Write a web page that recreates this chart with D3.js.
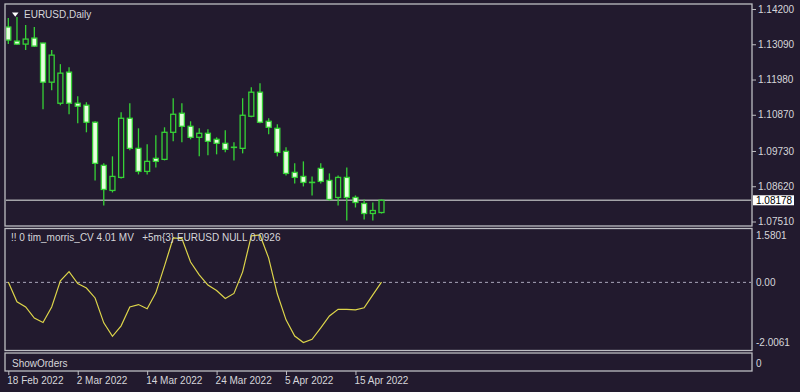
<!DOCTYPE html>
<html>
<head>
<meta charset="utf-8">
<script src="https://cdn.jsdelivr.net/npm/d3@7"></script>
<style>
    html, body { margin: 0; padding: 0; background: #221a2e; }
    svg { display: block; font-family: "Liberation Sans", Arial, sans-serif; }
</style>
</head>
<body>
<svg id="chart-container" width="800" height="392"></svg>
<script>
// EURUSD daily bars, 18 Feb 2022 .. 20 Apr 2022
var open = [1.13632, 1.13190, 1.13095, 1.13285, 1.13127, 1.11896, 1.11233, 1.12212, 1.11233, 1.11170,
    1.10634, 1.09277, 1.08488, 1.08898, 1.10760, 1.09813, 1.09087, 1.09498, 1.09466, 1.10318,
    1.10918, 1.10507, 1.10160, 1.10287, 1.10097, 1.09971, 1.09850, 1.09813, 1.10823, 1.11581,
    1.10665, 1.10444, 1.09718, 1.09056, 1.08929, 1.08745, 1.09182, 1.08803, 1.08267, 1.08898,
    1.08267, 1.08077, 1.07762, 1.07793];
var high = [1.13916, 1.13948, 1.13695, 1.13632, 1.13140, 1.12906, 1.12464, 1.12370, 1.11454, 1.11265,
    1.10665, 1.09340, 1.09561, 1.10949, 1.11233, 1.10444, 1.09939, 1.10223, 1.10476, 1.11391,
    1.11233, 1.10665, 1.10444, 1.10413, 1.10160, 1.10381, 1.10003, 1.11391, 1.11738, 1.11865,
    1.10760, 1.10571, 1.09845, 1.09340, 1.09403, 1.08929, 1.09340, 1.09024, 1.08961, 1.09213,
    1.08330, 1.08204, 1.08109, 1.08204];
var low = [1.13095, 1.13064, 1.12906, 1.13001, 1.11044, 1.11644, 1.11170, 1.10886, 1.10602, 1.10318,
    1.08803, 1.08014, 1.08425, 1.08866, 1.09750, 1.08993, 1.08993, 1.09213, 1.09434, 1.10034,
    1.10003, 1.10097, 1.09561, 1.09592, 1.09624, 1.09687, 1.09434, 1.09655, 1.10792, 1.10602,
    1.10255, 1.09561, 1.08961, 1.08709, 1.08614, 1.08330, 1.08709, 1.08172, 1.08014, 1.07541,
    1.07951, 1.07572, 1.07541, 1.07762];
var close = [1.13222, 1.13095, 1.13253, 1.13032, 1.11896, 1.12748, 1.12180, 1.11233, 1.11139, 1.10634,
    1.09340, 1.08519, 1.08929, 1.10760, 1.09813, 1.09087, 1.09403, 1.09403, 1.10318, 1.10886,
    1.10507, 1.10160, 1.10287, 1.10034, 1.09971, 1.09782, 1.09840, 1.10855, 1.11581, 1.10634,
    1.10476, 1.09687, 1.09024, 1.08898, 1.08740, 1.08735, 1.08772, 1.08204, 1.08898, 1.08267,
    1.08109, 1.07762, 1.07856, 1.08178];

// tim_morris_CV indicator, one value per bar
var cv = [0.01, -0.65, -0.82, -1.19, -1.34, -0.82, 0.05, 0.36, -0.04, -0.19,
    -0.52, -1.35, -1.80, -1.45, -0.82, -0.74, -0.88, -0.35, 0.55, 1.48,
    1.46, 0.68, 0.25, -0.09, -0.27, -0.54, -0.37, 0.35, 1.55, 1.5801,
    0.81, -0.39, -1.25, -1.79, -2.0061, -1.90, -1.52, -1.12, -0.90, -0.90,
    -0.92, -0.85, -0.42, 0.01];

var lastPrice = 1.08178;
var priceTicks = [1.14200, 1.13090, 1.11980, 1.10870, 1.09730, 1.08620, 1.07510];
var cvTicks = [1.5801, 0, -2.0061];
var cvTickLabels = ["1.5801", "0.00", "-2.0061"];
var dateTickBars = [0, 8, 16, 24, 32, 40];
var dateTickLabels = ["18 Feb 2022", "2 Mar 2022", "14 Mar 2022", "24 Mar 2022", "5 Apr 2022", "15 Apr 2022"];

var bg = "#221a2e";
var border = "#bdbdc2";
var textColor = "#d6d6da";
var green = "#36d236";

var svg = d3.select("#chart-container");

// panels
var left = 5, right = 752;
var main = { top: 4, bottom: 226 };
var ind = { top: 228.5, bottom: 350.5 };
var orders = { top: 353, bottom: 371 };

[main, ind, orders].forEach(p => {
    svg.append("rect")
        .attr("x", left)
        .attr("y", p.top)
        .attr("width", right - left)
        .attr("height", p.bottom - p.top)
        .style("fill", bg)
        .style("stroke", border)
        .style("stroke-width", 1.3);
});

// clips
var defs = svg.append("defs");
defs.append("clipPath").attr("id", "clip-main")
    .append("rect").attr("x", left + 1).attr("y", main.top + 1)
    .attr("width", right - left - 2).attr("height", main.bottom - main.top - 2);
defs.append("clipPath").attr("id", "clip-ind")
    .append("rect").attr("x", left + 1).attr("y", ind.top + 1)
    .attr("width", right - left - 2).attr("height", ind.bottom - ind.top - 2);

// scales
var x = d3.scaleLinear().domain([0, 43]).range([8.3, 381.5]);
var y = d3.scaleLinear().domain([1.0751, 1.142]).range([221.5, 9]);
var yc = d3.scaleLinear().domain([-2.0061, 1.5801]).range([342.5, 235]);

// current price line
var g = svg.append("g").attr("clip-path", "url(#clip-main)");
g.append("line")
    .attr("x1", left).attr("x2", right)
    .attr("y1", y(lastPrice)).attr("y2", y(lastPrice))
    .style("stroke", "#a4a4a8")
    .style("stroke-width", 1.4);

// candles
var bars = d3.range(open.length);
var bodyW = 5;

g.selectAll(".wick")
    .data(bars)
    .enter()
    .append("line")
    .attr("x1", i => x(i)).attr("x2", i => x(i))
    .attr("y1", i => y(high[i])).attr("y2", i => y(low[i]))
    .style("stroke", green)
    .style("stroke-width", 1.3);

g.selectAll(".body")
    .data(bars)
    .enter()
    .append("rect")
    .attr("x", i => x(i) - bodyW / 2)
    .attr("y", i => y(Math.max(open[i], close[i])))
    .attr("width", bodyW)
    .attr("height", i => Math.max(0.3, Math.abs(y(open[i]) - y(close[i]))))
    .style("fill", i => close[i] > open[i] ? bg : "#e6ffde")
    .style("stroke", green)
    .style("stroke-width", 1.3);

// price axis
var priceAxis = svg.append("g")
    .attr("transform", `translate(${right}, 0)`)
    .call(d3.axisRight(y).tickValues(priceTicks).tickFormat(d3.format(".5f")).tickSize(4).tickPadding(2));
priceAxis.select(".domain").remove();
priceAxis.selectAll("line").style("stroke", border);
priceAxis.selectAll("text")
    .style("fill", textColor)
    .style("font-size", "10px")
    .style("font-family", "Liberation Sans, Arial, sans-serif");

// last price tag
svg.append("rect")
    .attr("x", right + 1)
    .attr("y", y(lastPrice) - 5)
    .attr("width", 41)
    .attr("height", 10)
    .style("fill", "#ffffff");
svg.append("text")
    .attr("x", right + 4)
    .attr("y", y(lastPrice) + 3.6)
    .attr("font-size", 10)
    .style("fill", "#000000")
    .text(d3.format(".5f")(lastPrice));

// title
svg.append("path")
    .attr("d", "M12,12.5 L18.5,12.5 L15.25,16.8 Z")
    .style("fill", "#ffffff");
svg.append("text")
    .attr("x", 24)
    .attr("y", 18)
    .attr("font-size", 10)
    .style("fill", textColor)
    .text("EURUSD,Daily");

// indicator
var gi = svg.append("g").attr("clip-path", "url(#clip-ind)");
gi.append("line")
    .attr("x1", left).attr("x2", right)
    .attr("y1", yc(0)).attr("y2", yc(0))
    .style("stroke", "#aaa6ba")
    .style("stroke-width", 1)
    .style("stroke-dasharray", "3,3");

var cvLine = d3.line()
    .x((d, i) => x(i))
    .y(d => yc(d));
gi.append("path")
    .datum(cv)
    .attr("d", cvLine)
    .style("fill", "none")
    .style("stroke", "#dcd44a")
    .style("stroke-width", 1.2);

svg.append("text")
    .attr("x", 11)
    .attr("y", 241)
    .attr("font-size", 10)
    .style("fill", textColor)
    .style("white-space", "pre")
    .text("!! 0 tim_morris_CV 4.01 MV   +5m{3} EURUSD NULL 0.0926");

var cvAxis = svg.append("g")
    .attr("transform", `translate(${right}, 0)`)
    .call(d3.axisRight(yc).tickValues(cvTicks).tickFormat((d, i) => cvTickLabels[i]).tickSize(0).tickPadding(4));
cvAxis.select(".domain").remove();
cvAxis.selectAll("text")
    .style("fill", textColor)
    .style("font-size", "10px")
    .style("font-family", "Liberation Sans, Arial, sans-serif");

// ShowOrders panel
svg.append("text")
    .attr("x", 12)
    .attr("y", 366.5)
    .attr("font-size", 10)
    .style("fill", textColor)
    .text("ShowOrders");
svg.append("text")
    .attr("x", 756)
    .attr("y", 366.5)
    .attr("font-size", 10)
    .style("fill", textColor)
    .text("0");

// date axis
var dateAxis = svg.append("g")
    .attr("transform", `translate(0, ${orders.bottom})`)
    .call(d3.axisBottom(x).tickValues(dateTickBars).tickFormat((d, i) => dateTickLabels[i]).tickSize(4).tickPadding(2));
dateAxis.select(".domain").remove();
dateAxis.selectAll("line").style("stroke", border);
dateAxis.selectAll("text")
    .attr("text-anchor", "start")
    .attr("x", -1.5)
    .style("fill", textColor)
    .style("font-size", "10px")
    .style("font-family", "Liberation Sans, Arial, sans-serif");
</script>
</body>
</html>
